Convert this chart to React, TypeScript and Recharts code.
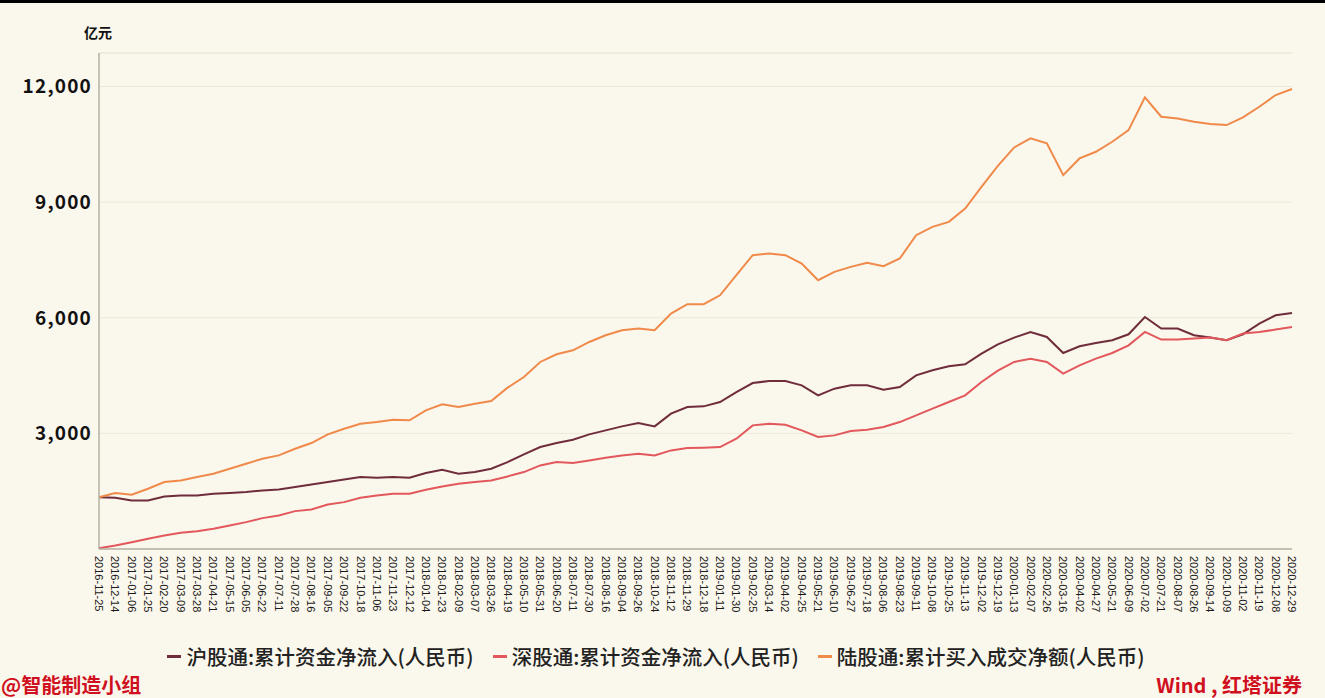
import React from "react";
import { LineChart, Line, XAxis, YAxis, CartesianGrid, ReferenceLine } from "recharts";

const dates = [
  "2016-11-25", "2016-12-14",
  "2017-01-06", "2017-01-25", "2017-02-20", "2017-03-09", "2017-03-28", "2017-04-21", "2017-05-15", "2017-06-05", "2017-06-22",
  "2017-07-11", "2017-07-28", "2017-08-16", "2017-09-05", "2017-09-22", "2017-10-18", "2017-11-06", "2017-11-23", "2017-12-12",
  "2018-01-04", "2018-01-23", "2018-02-09", "2018-03-07", "2018-03-26", "2018-04-19", "2018-05-10", "2018-05-31", "2018-06-20",
  "2018-07-11", "2018-07-30", "2018-08-16", "2018-09-04", "2018-09-26", "2018-10-24", "2018-11-12", "2018-11-29", "2018-12-18",
  "2019-01-11", "2019-01-30", "2019-02-25", "2019-03-14", "2019-04-02", "2019-04-25", "2019-05-21", "2019-06-10", "2019-06-27",
  "2019-07-18", "2019-08-06", "2019-08-23", "2019-09-11", "2019-10-08", "2019-10-25", "2019-11-13", "2019-12-02", "2019-12-19",
  "2020-01-13", "2020-02-07", "2020-02-26", "2020-03-16", "2020-04-02", "2020-04-27", "2020-05-21", "2020-06-09", "2020-07-02",
  "2020-07-21", "2020-08-07", "2020-08-26", "2020-09-14", "2020-10-09", "2020-11-02", "2020-11-19", "2020-12-08", "2020-12-29",
];

// 沪股通:累计资金净流入(人民币)
const shanghai = [
  1345, 1329, 1260, 1260, 1364, 1390, 1390, 1433, 1450, 1476, 1520, 1545, 1606, 1675, 1736, 1805, 1866, 1849, 1866, 1849,
  1970, 2056, 1953, 1996, 2082, 2255, 2455, 2645, 2749, 2835, 2974, 3078, 3182, 3268, 3182, 3511, 3684, 3701,
  3814, 4073, 4307, 4359, 4359, 4247, 3987, 4160, 4247, 4247, 4134, 4203, 4506, 4636, 4740, 4792, 5069, 5311,
  5485, 5632, 5502, 5086, 5260, 5346, 5416, 5571, 6021, 5719, 5719, 5545, 5485, 5416, 5571, 5849, 6065, 6125,
];

// 深股通:累计资金净流入(人民币)
const shenzhen = [
  20, 91, 177, 264, 351, 420, 463, 524, 610, 697, 801, 870, 983, 1026, 1156, 1216, 1329, 1390, 1433, 1433,
  1537, 1623, 1693, 1736, 1779, 1883, 1996, 2169, 2255, 2229, 2299, 2368, 2429, 2472, 2429, 2558, 2619, 2628,
  2645, 2862, 3208, 3251, 3225, 3078, 2905, 2948, 3061, 3095, 3164, 3294, 3468, 3641, 3814, 3987, 4333, 4630,
  4853, 4939, 4853, 4550, 4766, 4939, 5086, 5286, 5632, 5433, 5433, 5459, 5485, 5416, 5589, 5632, 5693, 5762,
];

// 陆股通:累计买入成交净额(人民币)
const northbound = [
  1345, 1450, 1407, 1563, 1736, 1779, 1866, 1953, 2083, 2212, 2342, 2429, 2602, 2749, 2974, 3121, 3251, 3294, 3355, 3338,
  3597, 3753, 3684, 3771, 3840, 4186, 4463, 4853, 5052, 5156, 5372, 5545, 5675, 5719, 5675, 6109, 6351, 6351,
  6584, 7104, 7623, 7667, 7623, 7407, 6974, 7190, 7320, 7424, 7338, 7537, 8143, 8359, 8489, 8835, 9398, 9940,
  10420, 10654, 10524, 9701, 10134, 10307, 10567, 10870, 11719, 11216, 11173, 11087, 11026, 11000, 11199, 11476, 11779, 11935,
];

const yTicks = [3000, 6000, 9000, 12000];
const yMax = 12870;

const seriesNames = [
  "沪股通:累计资金净流入(人民币)",
  "深股通:累计资金净流入(人民币)",
  "陆股通:累计买入成交净额(人民币)",
];
const seriesKeys = ["sh", "sz", "nb"];
const seriesColors = ["#6F2C3C", "#E2585C", "#F08A4A"];

const data = dates.map((d, i) => ({
  date: d,
  sh: shanghai[i],
  sz: shenzhen[i],
  nb: northbound[i],
}));

const XTick = (props: any) => {
  const { x, y, payload } = props;
  return (
    <g transform={`translate(${x},${y})`}>
      <text
        transform="rotate(90)"
        x={0}
        y={0}
        dy="0.36em"
        textAnchor="start"
        fontFamily="'Liberation Sans', Arial, sans-serif"
        fontSize={11}
        fill="#1a1a1a"
      >
        {payload.value}
      </text>
    </g>
  );
};

const fmt = (v: number) => v.toLocaleString("en-US");

export default function App() {
  return (
    <div
      style={{
        position: "fixed",
        left: 0,
        top: 0,
        width: 1325,
        height: 698,
        background: "#FAF7EC",
        overflow: "hidden",
      }}
    >
      <div style={{ position: "absolute", left: 0, top: 0, width: 1325, height: 3, background: "#000" }} />
      <div
        style={{
          position: "absolute",
          left: 84,
          top: 22,
          fontFamily: "'Noto Sans CJK SC', sans-serif",
          fontWeight: 700,
          fontSize: 14,
          color: "#111",
        }}
      >
        亿元
      </div>
      <div style={{ position: "absolute", left: 0, top: 0 }}>
        <LineChart
          width={1325}
          height={698}
          data={data}
          margin={{ top: 53, right: 33, bottom: 79, left: 0 }}
        >
          <CartesianGrid vertical={false} stroke="#ECE7D9" strokeWidth={1} />
          <ReferenceLine y={yMax} stroke="#ECE7D9" strokeWidth={1} />
          <XAxis
            dataKey="date"
            interval={0}
            height={70}
            tickSize={0}
            tickMargin={7}
            tick={<XTick />}
            axisLine={{ stroke: "#B5B0A2", strokeWidth: 1.5 }}
            tickLine={false}
          />
          <YAxis
            width={99}
            domain={[0, yMax]}
            ticks={yTicks}
            tickFormatter={fmt}
            tickSize={0}
            tickMargin={7}
            tickLine={false}
            axisLine={{ stroke: "#B5B0A2", strokeWidth: 1.5 }}
            tick={{
              fontFamily: "'Noto Sans CJK SC', sans-serif",
              fontWeight: 700,
              fontSize: 19,
              fill: "#111",
              letterSpacing: 1.2,
            }}
          />
          {seriesKeys.map((k, i) => (
            <Line
              key={k}
              dataKey={k}
              name={seriesNames[i]}
              stroke={seriesColors[i]}
              strokeWidth={2}
              dot={false}
              type="linear"
              isAnimationActive={false}
            />
          ))}
        </LineChart>
      </div>
      <div
        style={{
          position: "absolute",
          left: 0,
          top: 641,
          width: 1312,
          display: "flex",
          justifyContent: "center",
          alignItems: "center",
          fontFamily: "'Noto Sans CJK SC', sans-serif",
          fontSize: 20.5,
          fontWeight: 500,
          color: "#222",
        }}
      >
        {seriesNames.map((n, i) => (
          <div key={n} style={{ display: "flex", alignItems: "center", marginRight: i < 2 ? 19 : 0 }}>
            <span
              style={{
                display: "inline-block",
                width: 14,
                height: 3,
                background: seriesColors[i],
                marginRight: 5,
              }}
            />
            <span>{n}</span>
          </div>
        ))}
      </div>
      <div
        style={{
          position: "absolute",
          left: 1,
          top: 675,
          lineHeight: "20px",
          fontFamily: "'Noto Sans CJK SC', sans-serif",
          fontWeight: 700,
          fontSize: 20,
          color: "#D0101E",
          whiteSpace: "nowrap",
        }}
      >
        @智能制造小组
      </div>
      <div
        style={{
          position: "absolute",
          right: 23,
          top: 675,
          lineHeight: "20px",
          fontFamily: "'Noto Sans CJK SC', sans-serif",
          fontWeight: 700,
          fontSize: 20,
          color: "#D0101E",
          whiteSpace: "nowrap",
        }}
      >
        Wind , 红塔证券
      </div>
    </div>
  );
}
